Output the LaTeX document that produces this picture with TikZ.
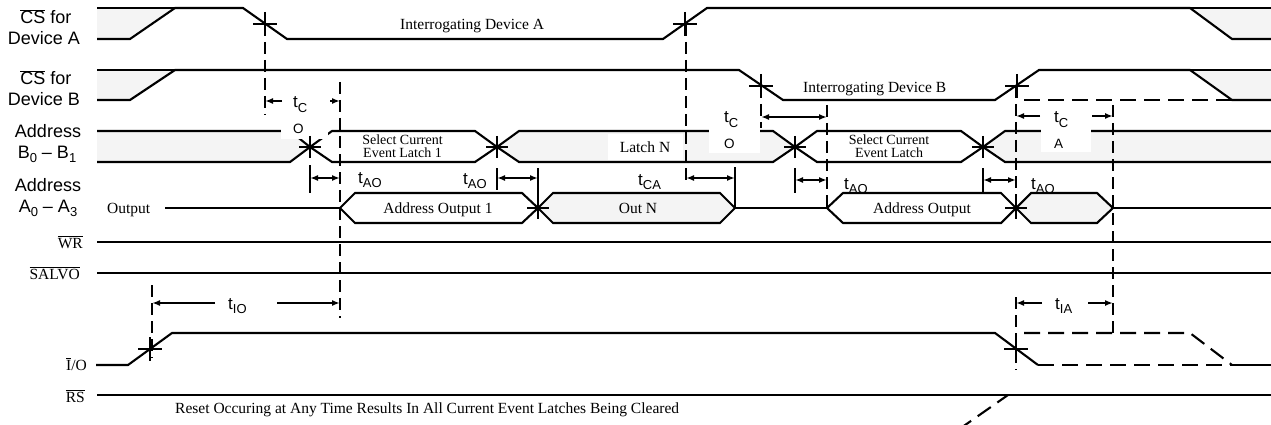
\documentclass[tikz,border=0pt]{standalone}
\usepackage{fontspec}
\setmainfont{Liberation Serif}
\setsansfont{Liberation Sans}
\usetikzlibrary{arrows.meta}
\definecolor{dontcare}{gray}{0.955}
\newcommand{\ovl}[1]{$\overline{\mbox{#1}}$}
\newcommand{\lowsub}[1]{\raisebox{-4.5pt}{\fontsize{13}{15}\selectfont #1}}
\newcommand{\tsym}[1]{t\lowsub{#1}}
\tikzset{
	sig/.style= {
		line width=2.1pt,
		line join=miter
	},
	busfill/.style= {sig, fill=dontcare},
	busclear/.style= {sig, fill=white},
	future/.style= {sig, dash pattern=on 16pt off 8pt},
	guide/.style= {line width=2.1pt, dash pattern=on 12pt off 6pt},
	bar/.style= {line width=2.1pt},
	dim/.style= {line width=2.1pt, {Latex[length=8pt,width=6pt]}-{Latex[length=8pt,width=6pt]}},
	half/.style= {line width=2.1pt, -{Latex[length=8pt,width=6pt]}},
	pinname/.style= {font=\sffamily\fontsize{18}{21}\selectfont, inner sep=0pt, anchor=base},
	pinserif/.style= {font=\fontsize{15.5}{18}\selectfont, inner sep=0pt, anchor=base east},
	note/.style= {font=\fontsize{15.5}{12}\selectfont, inner sep=0pt},
	latchtext/.style= {font=\fontsize{14}{13}\selectfont, inner sep=0pt, align=center},
	timing/.style= {font=\sffamily\fontsize{17}{20}\selectfont, inner sep=0pt, anchor=base west},
	timingsub/.style= {font=\sffamily\fontsize{13.5}{15}\selectfont, inner sep=0pt, anchor=base west},
	mask/.style= {fill=white, draw=none, inner sep=0pt}
}

\begin{document}
\begin{tikzpicture}[x=1pt, y=-1pt]

	\useasboundingbox (0,0) rectangle (1271,425);

	% CS for device A
	\fill[dontcare] (97,8) -- (175,8) -- (130,39) -- (97,39) -- cycle;
	\fill[dontcare] (1190,8) -- (1271,8) -- (1271,39) -- (1232,39) -- cycle;
	\draw[sig] (97,8) -- (175,8);
	\draw[sig] (1190,8) -- (1271,8);
	\draw[sig] (97,39) -- (130,39) -- (175,8) -- (243,8) -- (287,39) -- (663,39) -- (707,8) -- (1190,8) -- (1232,39) -- (1271,39);

	% CS for device B
	\fill[dontcare] (97,70) -- (175,70) -- (130,100) -- (97,100) -- cycle;
	\fill[dontcare] (1190,70) -- (1271,70) -- (1271,100) -- (1232,100) -- cycle;
	\draw[sig] (97,70) -- (175,70);
	\draw[sig] (1190,70) -- (1271,70);
	\draw[sig] (97,100) -- (130,100) -- (175,70) -- (739,70) -- (783,100) -- (995,100) -- (1039,70) -- (1190,70) -- (1232,100) -- (1271,100);
	\draw[future] (1024,100) -- (1232,100);

	% address B0-B1
	\fill[dontcare] (97,131) -- (290,131) -- (310,147) -- (290,162) -- (97,162) -- cycle;
	\draw[sig] (97,131) -- (290,131) -- (310,147) -- (290,162) -- (97,162);
	\draw[busclear] (310,147) -- (332,131) -- (475,131) -- (497,147) -- (475,162) -- (332,162) -- cycle;
	\draw[busfill] (497,147) -- (519,131) -- (773,131) -- (795,147) -- (773,162) -- (519,162) -- cycle;
	\draw[busclear] (795,147) -- (817,131) -- (961,131) -- (983,147) -- (961,162) -- (817,162) -- cycle;
	\fill[dontcare] (1271,131) -- (1005,131) -- (983,147) -- (1005,162) -- (1271,162) -- cycle;
	\draw[sig] (1271,131) -- (1005,131) -- (983,147) -- (1005,162) -- (1271,162);

	% address A0-A3
	\draw[sig] (165,208) -- (340,208);
	\draw[busclear] (340,208) -- (355,193) -- (522,193) -- (538,208) -- (522,223) -- (355,223) -- cycle;
	\draw[busfill] (538,208) -- (553,193) -- (720,193) -- (735,208) -- (720,223) -- (553,223) -- cycle;
	\draw[sig] (735,208) -- (827,208);
	\draw[busclear] (827,208) -- (843,193) -- (1001,193) -- (1016,208) -- (1001,223) -- (843,223) -- cycle;
	\draw[busfill] (1016,208) -- (1031,193) -- (1097,193) -- (1113,208) -- (1097,223) -- (1031,223) -- cycle;
	\draw[sig] (1113,208) -- (1271,208);

	% WR, SALVO, RS
	\foreach \y in {242, 273, 395}
	{
		\draw[sig] (97,\y) -- (1271,\y);
	}
	\draw[future] (958,430) -- (1008,395);

	% I/O
	\draw[sig] (96,365) -- (128,365) -- (172,333) -- (995,333) -- (1038,365);
	\draw[future] (1038,365) -- (1232,365);
	\draw[sig] (1232,365) -- (1271,365);
	\draw[future] (1024,333) -- (1190,333) -- (1232,365);

	% white boxes behind labels
	\node (tco1mask)[mask, minimum width=47pt, minimum height=47pt] at (304.5,115.5) {};
	\node (tco2mask)[mask, minimum width=51pt, minimum height=48pt] at (734.5,129) {};
	\node (tca2mask)[mask, minimum width=50pt, minimum height=48pt] at (1066,128) {};

	% crossing marks
	\foreach \x/\y in {265/24, 685/24, 761/86, 1017/86, 150/349, 1016/349}
	{
		\draw[bar] (\x-12,\y) -- (\x+12,\y) (\x,\y-12) -- (\x,\y+12);
	}
	\foreach \x/\y in {310/147, 497/147, 795/147, 983/147, 538/208, 1016/208}
	{
		\draw[bar] (\x-11,\y) -- (\x+11,\y) (\x,\y-11) -- (\x,\y+11);
	}

	% guide lines
	\draw[guide] (265,24) -- (265,115);
	\draw[guide] (340,82) -- (340,318);
	\draw[guide] (686,24) -- (686,185);
	\draw[guide] (761,86) -- (761,128);
	\draw[guide] (827,105) -- (827,212);
	\draw[guide] (1016,86) -- (1016,205);
	\draw[guide] (1113,105) -- (1113,333);
	\draw[guide] (152,285) -- (152,358);
	\draw[guide] (1016,297) -- (1016,370);
	\draw[bar] (310,165) -- (310,193);
	\draw[bar] (497,168) -- (497,190);
	\draw[bar] (538,168) -- (538,208);
	\draw[bar] (735,167) -- (735,208);
	\draw[bar] (795,168) -- (795,193);
	\draw[bar] (983,168) -- (983,193);

	% timing arrows
	\draw[half] (282,101) -- (265,101);
	\draw[half] (330,101) -- (340,101);
	\draw[dim] (310,178) -- (340,178);
	\draw[dim] (497,178) -- (538,178);
	\draw[dim] (686,178) -- (735,178);
	\draw[dim] (761,117) -- (827,117);
	\draw[dim] (795,180) -- (827,180);
	\draw[dim] (983,180) -- (1016,180);
	\draw[half] (1040,116) -- (1016,116);
	\draw[half] (1092,116) -- (1113,116);
	\draw[half] (215,303) -- (152,303);
	\draw[half] (277,303) -- (340,303);
	\draw[half] (1042,303) -- (1016,303);
	\draw[half] (1088,303) -- (1113,303);

	% pin names
	\node (csa1)[pinname] at (46,24) {\ovl{CS} for};
	\node (csa2)[pinname] at (44,45) {Device A};
	\node (csb1)[pinname] at (46,85) {\ovl{CS} for};
	\node (csb2)[pinname] at (44,106) {Device B};
	\node (adb1)[pinname] at (48,138) {Address};
	\node (adb2)[pinname] at (47,158) {B\lowsub{0} -- B\lowsub{1}};
	\node (ada1)[pinname] at (48,191) {Address};
	\node (ada2)[pinname] at (48,212) {A\lowsub{0} -- A\lowsub{3}};
	\node (wr)[pinserif] at (83,248) {\ovl{WR}};
	\node (salvo)[pinserif] at (80,279) {\ovl{SALVO}};
	\node (io)[pinserif] at (87,370) {\ovl{I}/O};
	\node (rs)[pinserif] at (85,402) {\ovl{RS}};

	% signal texts
	\node (output)[note, anchor=base west] at (107,213) {Output};
	\node (deva)[note, anchor=base west] at (400,30) {Interrogating Device A};
	\node (devb)[note, anchor=base west] at (803,93) {Interrogating Device B};
	\node (sel1)[latchtext, anchor=north] at (402.5,135) {Select Current\\Event Latch 1};
	\node (latchn)[note, fill=white, minimum width=75pt, minimum height=26pt] at (645,147) {Latch N};
	\node (sel2)[latchtext, anchor=north] at (889,135) {Select Current\\Event Latch};
	\node (addrout1)[note, anchor=base] at (438,213) {Address Output 1};
	\node (outn)[note, anchor=base] at (638,213) {Out N};
	\node (addrout)[note, anchor=base] at (922,213) {Address Output};
	\node (reset)[note, anchor=base west] at (175,413) {Reset Occuring at Any Time Results In All Current Event Latches Being Cleared};

	% timing names
	\node (tco1)[timing] at (293,108) {\tsym{C}};
	\node (tco1b)[timingsub] at (293,133) {O};
	\node (tao1)[timing] at (358,183) {\tsym{AO}};
	\node (tao2)[timing] at (463,184) {\tsym{AO}};
	\node (tca1)[timing] at (638,185) {\tsym{CA}};
	\node (tco2)[timing] at (724,123) {\tsym{C}};
	\node (tco2b)[timingsub] at (724,148) {O};
	\node (tao3)[timing] at (844,189) {\tsym{AO}};
	\node (tao4)[timing] at (1031,189) {\tsym{AO}};
	\node (tca2)[timing] at (1054,123) {\tsym{C}};
	\node (tca2b)[timingsub] at (1054,148) {A};
	\node (tio)[timing] at (228,309) {\tsym{IO}};
	\node (tia)[timing] at (1055,309) {\tsym{IA}};

\end{tikzpicture}
\end{document}
